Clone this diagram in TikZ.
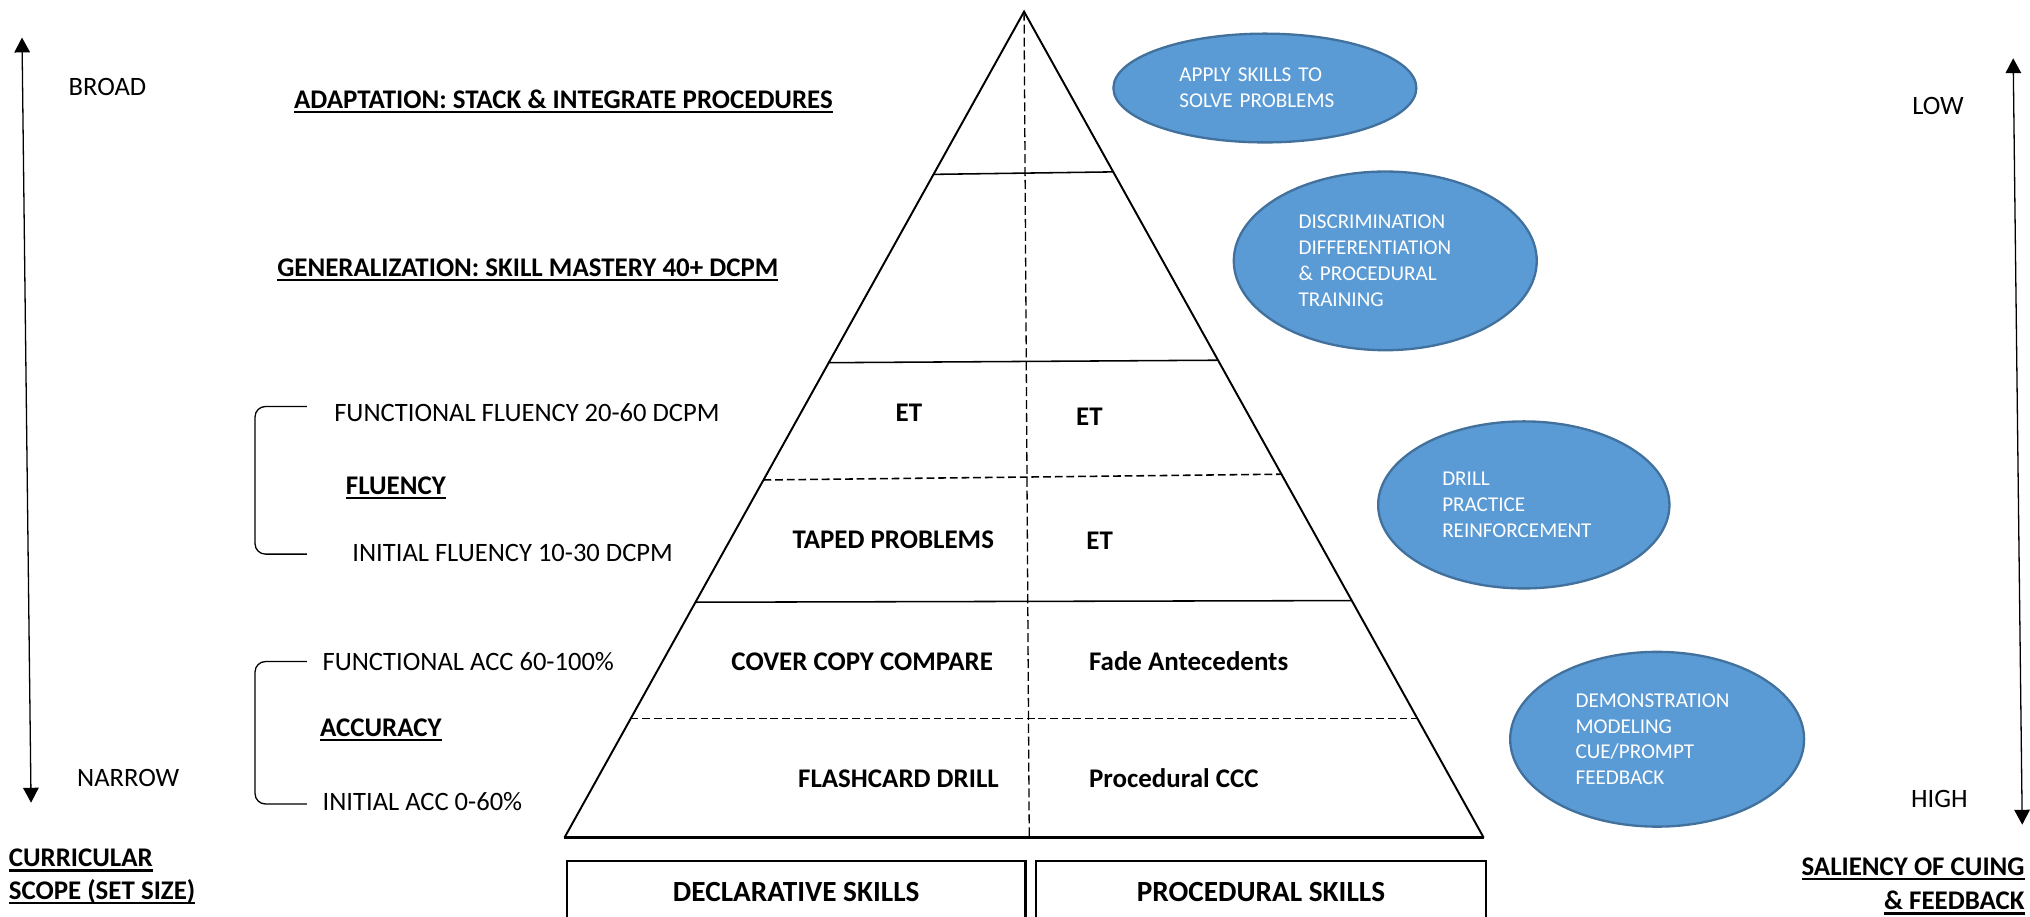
\documentclass[tikz,border=0pt]{standalone}
\usepackage{fontspec}
\setmainfont{Carlito}
\usetikzlibrary{arrows.meta, shapes.geometric, calc}

\definecolor{bubbleblue}{HTML}{5B9BD5}
\definecolor{bubbleedge}{HTML}{41719C}

\newsavebox{\undlbox}
\newcommand{\undl}[1]{\sbox{\undlbox}{#1}\rlap{\rule[-3.8pt]{\wd\undlbox}{1.8pt}}\usebox{\undlbox}}

\begin{document}
\begin{tikzpicture}[x=1pt, y=-1pt,
  txt/.style={inner sep=0pt, text height=13.2pt, text depth=0pt, font=\fontsize{20.5}{24.6}\selectfont},
  boldtxt/.style={txt, font=\fontsize{20.8}{25}\selectfont\bfseries},
  bubble/.style={ellipse, draw=bubbleedge, line width=1.8pt, fill=bubbleblue, text=white, inner sep=0pt, align=left, font=\fontsize{16.3}{20}\selectfont},
  skillbox/.style={rectangle, draw, line width=1.8pt, minimum height=48pt, font=\fontsize{22.6}{27}\selectfont\bfseries},
  side/.style={line width=1.5pt},
  tier/.style={line width=1.2pt},
  tierdash/.style={line width=1.2pt, dash pattern=on 6pt off 3pt},
  scalearrow/.style={{Triangle[length=11.5pt, width=12pt]}-{Triangle[length=11.5pt, width=12pt]}, line width=1pt}
]
\useasboundingbox (0,0) rectangle (1568,708);
\clip (0,0) rectangle (1568,708);

% curricular scope (left)
\coordinate (scopetop) at (17,29);
\coordinate (scopebot) at (24,620);
\draw[scalearrow] (scopetop) -- (scopebot);
\node[txt] (broad) at (83,67) {BROAD};
\node[txt] (narrow) at (99,601) {NARROW};
\node[boldtxt, anchor=west] (scope1) at (6.6,663) {\undl{CURRICULAR}};
\node[boldtxt, anchor=west] (scope2) at (6.6,688) {\undl{SCOPE (SET SIZE)}};

% stages
\node[boldtxt, anchor=west] (adapt) at (227,77) {\undl{ADAPTATION: STACK \& INTEGRATE PROCEDURES}};
\node[boldtxt, anchor=west] (general) at (214,207) {\undl{GENERALIZATION: SKILL MASTERY 40+ DCPM}};

\draw[line width=1pt, rounded corners=8pt] (237,314) -| (197,428) -- (237,428);
\node[txt, anchor=west] (funcflu) at (258,319) {FUNCTIONAL FLUENCY 20-60 DCPM};
\node[boldtxt, anchor=west] (fluency) at (267,375) {\undl{FLUENCY}};
\node[txt, anchor=west] (initflu) at (272,427) {INITIAL FLUENCY 10-30 DCPM};

\draw[line width=1pt, rounded corners=8pt] (237,511) -| (197,621) -- (237,621);
\node[txt, anchor=west] (funcacc) at (249,511) {FUNCTIONAL ACC 60-100\%};
\node[boldtxt, anchor=west] (accuracy) at (247,562) {\undl{ACCURACY}};
\node[txt, anchor=west] (initacc) at (249,619.5) {INITIAL ACC 0-60\%};

% pyramid
\coordinate (apex) at (791,9);
\coordinate (bl) at (436,647);
\coordinate (br) at (1146,647);
\coordinate (mid) at (795,647);
\draw[side] (bl) -- (apex) -- (br);
\draw[line width=2.8pt] (bl) -- (br);
\draw[line width=1pt, dash pattern=on 7pt off 3pt] (apex) -- (mid);

\draw[tier] ($(apex)!0.197!(bl)$) -- ($(apex)!0.194!(br)$);
\draw[tier] ($(apex)!0.425!(bl)$) -- ($(apex)!0.422!(br)$);
\draw[tierdash] ($(apex)!0.567!(bl)$) -- ($(apex)!0.560!(br)$);
\draw[tier] ($(apex)!0.715!(bl)$) -- ($(apex)!0.713!(br)$);
\draw[tierdash] ($(apex)!0.856!(bl)$) -- ($(apex)!0.856!(br)$);

\node[boldtxt] (et1) at (702,319) {ET};
\node[boldtxt, anchor=west] (et2) at (831,322) {ET};
\node[boldtxt] (taped) at (690,417) {TAPED PROBLEMS};
\node[boldtxt, anchor=west] (et3) at (839,418) {ET};
\node[boldtxt] (ccc) at (666,511) {COVER COPY COMPARE};
\node[boldtxt, anchor=west] (fade) at (841,511) {Fade Antecedents};
\node[boldtxt] (flash) at (694,602) {FLASHCARD DRILL};
\node[boldtxt, anchor=west] (procccc) at (841,602) {Procedural CCC};

\node[skillbox, minimum width=354pt] (decl) at (615,689) {DECLARATIVE SKILLS};
\node[skillbox, minimum width=348pt] (procskill) at (974,689) {PROCEDURAL SKILLS};

% instruction bubbles
\node[bubble, minimum width=234pt, minimum height=84pt, text width=132pt] (apply) at (977,68) {APPLY SKILLS TO\\SOLVE PROBLEMS};
\node[bubble, minimum width=234pt, minimum height=138pt, text width=134pt] (discrim) at (1070,201.5) {DISCRIMINATION\\DIFFERENTIATION\\\& PROCEDURAL\\TRAINING};
\node[bubble, minimum width=225pt, minimum height=129pt, text width=126pt] (drill) at (1177,390) {DRILL\\PRACTICE\\REINFORCEMENT};
\node[bubble, minimum width=227pt, minimum height=135pt, text width=126pt] (demo) at (1280,571) {DEMONSTRATION\\MODELING\\CUE/PROMPT\\FEEDBACK};

% saliency of cuing (right)
\coordinate (cuetop) at (1555,45);
\coordinate (cuebot) at (1562,637);
\draw[scalearrow] (cuetop) -- (cuebot);
\node[txt] (low) at (1497,82) {LOW};
\node[txt] (high) at (1498,617) {HIGH};
\node[boldtxt, anchor=east] (salience1) at (1564,669.5) {\undl{SALIENCY OF CUING}};
\node[boldtxt, anchor=east] (salience2) at (1564,696) {\undl{\& FEEDBACK}};

\end{tikzpicture}
\end{document}
